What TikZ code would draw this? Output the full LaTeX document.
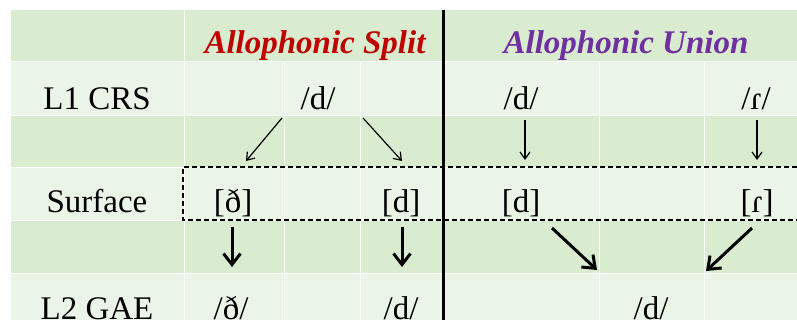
\documentclass[tikz,border=0pt]{standalone}
\usepackage{fontspec}
\setmainfont{Liberation Serif}
\usetikzlibrary{arrows.meta}
\definecolor{gdark}{RGB}{217,236,208}
\definecolor{glight}{RGB}{235,245,231}
\definecolor{splitred}{RGB}{192,0,0}
\definecolor{unionpurple}{RGB}{112,48,160}
\tikzset{
  lbl/.style={anchor=base, inner sep=0pt, font=\fontsize{33}{36}\selectfont},
  ttl/.style={anchor=base, inner sep=0pt, font=\fontsize{33}{36}\selectfont\bfseries\itshape},
  thinarr/.style={line width=1.2pt, -{Straight Barb[length=7pt,width=10pt]}},
  thickarr/.style={line width=3pt, -{Straight Barb[length=11pt,width=17pt]}},
  grid/.style={white, line width=1pt},
  dashbox/.style={line width=1.8pt, dash pattern=on 5pt off 3pt}
}
\begin{document}
\begin{tikzpicture}[x=1pt,y=-1pt]
\useasboundingbox (0,0) rectangle (797,320);
\fill[white] (0,0) rectangle (797,320);
% row fills
\fill[gdark]  (11,10)  rectangle (797,62);
\fill[glight] (11,62)  rectangle (797,116);
\fill[gdark]  (11,116) rectangle (797,168);
\fill[glight] (11,168) rectangle (797,221);
\fill[gdark]  (11,221) rectangle (797,273);
\fill[glight] (11,273) rectangle (797,320);
% white grid
\foreach \yy in {62,116,168,221,273} \draw[grid] (11,\yy) -- (797,\yy);
\draw[grid] (184,10) -- (184,320);
\foreach \xx in {284,360,599,704} \draw[grid] (\xx,62) -- (\xx,320);
% thick divider
\draw[line width=3pt] (443,10) -- (443,320);
% titles
\node[ttl, text=splitred] (tsplit) at (315,54) {Allophonic Split};
\node[ttl, text=unionpurple] (tunion) at (626,54) {Allophonic Union};
% row labels
\node[lbl] (l1) at (97,110) {L1 CRS};
\node[lbl] (surf) at (97,213) {Surface};
\node[lbl] (l2) at (97,319) {L2 GAE};
% L1 row
\node[lbl] (l1d) at (318,110) {/d/};
\node[lbl] (l1dr) at (521,110) {/d/};
\node[lbl] (l1r) at (756,110) {/ɾ/};
% surface row
\node[lbl] (sdh) at (233,213) {[ð]};
\node[lbl] (sd) at (401,213) {[d]};
\node[lbl] (sdr) at (521,213) {[d]};
\node[lbl] (sr) at (757,213) {[ɾ]};
% L2 row
\node[lbl] (l2dh) at (231,319) {/ð/};
\node[lbl] (l2d) at (401,319) {/d/};
\node[lbl] (l2dr) at (651,319) {/d/};
% dashed box
\coordinate (bxtr) at (797,167);
\coordinate (bxtl) at (183,167);
\coordinate (bxbl) at (183,220);
\coordinate (bxbr) at (797,220);
\draw[dashbox] (bxtr) -- (bxtl) -- (bxbl) -- (bxbr);
% arrow endpoints
\coordinate (a1s) at (282,118); \coordinate (a1e) at (246,161);
\coordinate (a2s) at (363,118); \coordinate (a2e) at (402,161);
\coordinate (a3s) at (525,120); \coordinate (a3e) at (525,160);
\coordinate (a4s) at (757,120); \coordinate (a4e) at (757,160);
\coordinate (b1s) at (232,227); \coordinate (b1e) at (232,267);
\coordinate (b2s) at (402,227); \coordinate (b2e) at (402,267);
\coordinate (b3s) at (552,228); \coordinate (b3e) at (597,270);
\coordinate (b4s) at (752,228); \coordinate (b4e) at (706,271);
\draw[thinarr] (a1s) -- (a1e);
\draw[thinarr] (a2s) -- (a2e);
\draw[thinarr] (a3s) -- (a3e);
\draw[thinarr] (a4s) -- (a4e);
\draw[thickarr] (b1s) -- (b1e);
\draw[thickarr] (b2s) -- (b2e);
\draw[thickarr] (b3s) -- (b3e);
\draw[thickarr] (b4s) -- (b4e);
\end{tikzpicture}
\end{document}
